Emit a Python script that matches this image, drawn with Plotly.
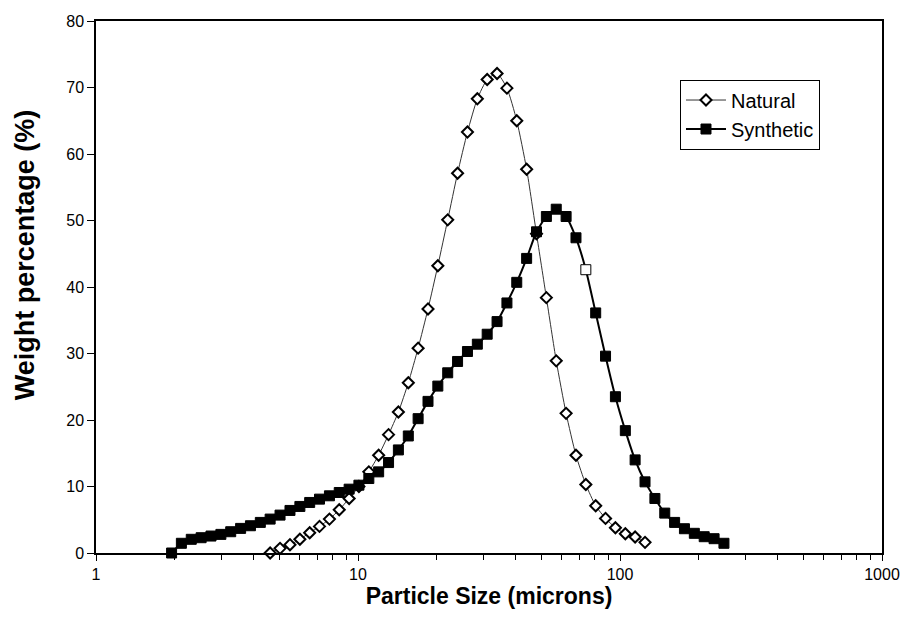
import plotly.graph_objects as go

# Particle size bins (microns)
natural_size = [4.62, 5.04, 5.50, 6.00, 6.54, 7.13, 7.78, 8.48, 9.25, 10.08,
                11.00, 11.99, 13.08, 14.26, 15.56, 16.96, 18.50, 20.17, 22.00, 23.99,
                26.17, 28.54, 31.12, 33.94, 37.02, 40.36, 44.02, 48.01, 52.36, 57.10,
                62.27, 67.91, 74.06, 80.76, 88.07, 96.05, 104.8, 114.2, 124.6]
natural_wt = [0.0, 0.7, 1.25, 2.06, 3.05, 4.0, 5.1, 6.5, 8.2, 10.0,
              12.2, 14.7, 17.8, 21.2, 25.6, 30.8, 36.7, 43.2, 50.1, 57.1,
              63.3, 68.3, 71.2, 72.1, 69.9, 65.0, 57.7, 48.0, 38.4, 28.9,
              21.0, 14.7, 10.3, 7.1, 5.2, 3.8, 2.9, 2.4, 1.6]

synthetic_size = [1.943, 2.118, 2.310, 2.519, 2.747, 2.997, 3.267, 3.564, 3.886, 4.238,
                  4.62, 5.04, 5.50, 6.00, 6.54, 7.13, 7.78, 8.48, 9.25, 10.08,
                  11.00, 11.99, 13.08, 14.26, 15.56, 16.96, 18.50, 20.17, 22.00, 23.99,
                  26.17, 28.54, 31.12, 33.94, 37.02, 40.36, 44.02, 48.01, 52.36, 57.10,
                  62.27, 67.91, 74.06, 80.76, 88.07, 96.05, 104.8, 114.2, 124.6, 135.9,
                  148.2, 161.6, 176.2, 192.2, 209.6, 228.6, 249.3]
synthetic_wt = [0.0, 1.46, 2.06, 2.3, 2.55, 2.8, 3.2, 3.7, 4.1, 4.6,
                5.1, 5.7, 6.4, 7.0, 7.6, 8.1, 8.6, 9.1, 9.6, 10.2,
                11.2, 12.2, 13.6, 15.5, 17.6, 20.2, 22.8, 25.1, 27.1, 28.8,
                30.3, 31.4, 32.9, 34.8, 37.6, 40.7, 44.3, 48.3, 50.6, 51.7,
                50.6, 47.4, 42.6, 36.1, 29.6, 23.5, 18.4, 14.0, 10.7, 8.2,
                6.0, 4.6, 3.65, 2.96, 2.45, 2.15, 1.46]
hollow_index = 42  # one synthetic marker drawn unfilled in the original

x_tickvals = [1, 10, 100, 1000]
x_ticktext = ["1", "10", "100", "1000"]
y_tickvals = [0, 10, 20, 30, 40, 50, 60, 70, 80]

FONT = "Liberation Sans, Arial, sans-serif"

syn_fill = ["black"] * len(synthetic_wt)
syn_fill[hollow_index] = "white"

fig = go.Figure()
fig.add_trace(go.Scatter(
    x=natural_size, y=natural_wt, name="Natural", mode="lines+markers",
    line=dict(color="#333333", width=1, shape="spline", smoothing=0.6),
    marker=dict(symbol="diamond", size=8.5, color="white",
                line=dict(color="black", width=2)),
    cliponaxis=False,
))
fig.add_trace(go.Scatter(
    x=synthetic_size, y=synthetic_wt, name="Synthetic", mode="lines+markers",
    line=dict(color="black", width=2, shape="spline", smoothing=0.6),
    marker=dict(symbol="square", size=10, color=syn_fill,
                line=dict(color="black", width=1)),
    cliponaxis=False,
))

minor_vals = [m * d for d in (1, 10, 100) for m in range(2, 10)]

fig.update_layout(
    width=903, height=617,
    margin=dict(l=96, r=21, t=21, b=64),
    paper_bgcolor="white", plot_bgcolor="white",
    font=dict(family=FONT, size=15, color="black"),
    showlegend=True,
    legend=dict(x=0.743, y=0.89, xanchor="left", yanchor="top",
                bordercolor="black", borderwidth=1, bgcolor="white",
                font=dict(size=20, family=FONT), tracegroupgap=0,
                itemwidth=40),
    xaxis=dict(
        type="log", range=[0, 3], automargin=False,
        tickvals=x_tickvals, ticktext=x_ticktext,
        ticks="outside", ticklen=6, tickwidth=1, tickcolor="black",
        minor=dict(tickvals=minor_vals, ticks="outside", ticklen=5,
                   tickcolor="black", tickwidth=1, showgrid=False),
        showline=True, linecolor="black", linewidth=1.5, mirror=True,
        showgrid=False, zeroline=False,
        tickfont=dict(size=16, family=FONT),
        title=dict(text="Particle Size (microns)", standoff=6,
                   font=dict(size=23, family=FONT, weight="bold")),
    ),
    yaxis=dict(
        range=[0, 80], tickvals=y_tickvals, automargin=False,
        ticks="outside", ticklen=7, tickwidth=1, tickcolor="black",
        showline=True, linecolor="black", linewidth=1.5, mirror=True,
        showgrid=False, zeroline=False,
        tickfont=dict(size=16, family=FONT),
    ),
    annotations=[dict(
        text="Weight percentage (%)", textangle=-90,
        xref="paper", yref="paper", x=-0.09, y=0.56,
        xanchor="center", yanchor="middle", showarrow=False,
        font=dict(size=27, family=FONT, weight="bold", color="black"),
    )],
)

fig.write_html("out.html")
